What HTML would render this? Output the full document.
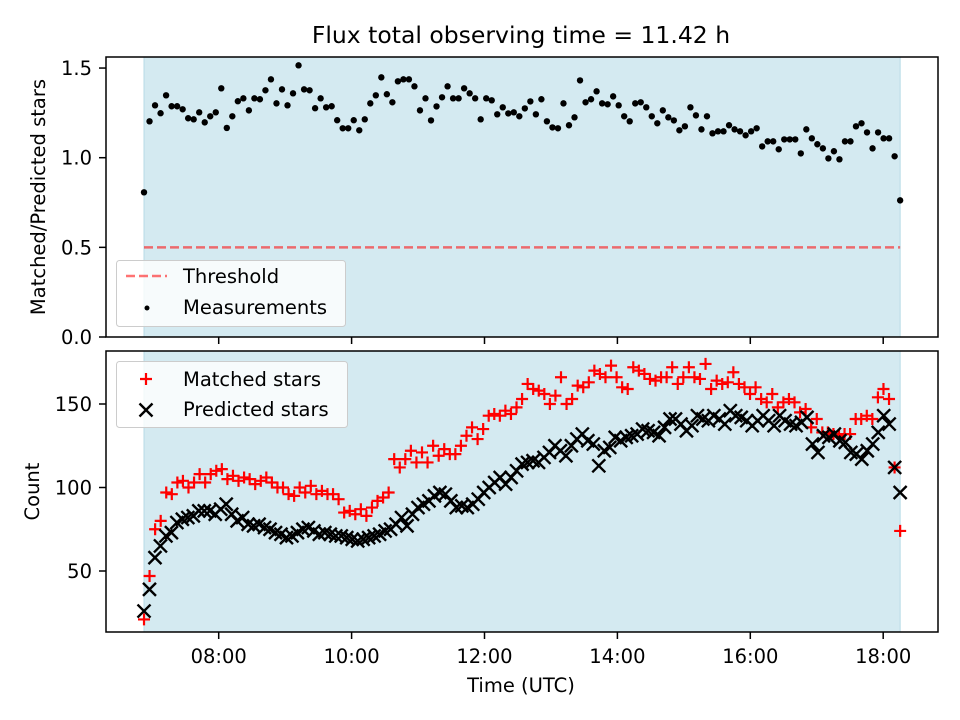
<!DOCTYPE html>
<html><head><meta charset="utf-8"><style>
body{margin:0;background:#fff;}
svg{display:block;font-family:"DejaVu Sans","Liberation Sans",sans-serif;}
</style></head><body>
<svg id="chart" width="960" height="720" viewBox="0 0 960 720" xmlns="http://www.w3.org/2000/svg">
<rect width="960" height="720" fill="#fff"/>
<text x="521" y="43" text-anchor="middle" font-size="23.5" fill="#000">Flux total observing time = 11.42 h</text>
<g id="top"></g>
<g id="bot"></g>
</svg>
<script>
const ratioValues = [0.807,1.203,1.292,1.248,1.348,1.287,1.287,1.270,1.220,1.214,1.253,1.197,1.231,1.253,1.387,1.166,1.231,1.315,1.331,1.264,1.331,1.326,1.376,1.437,1.303,1.381,1.292,1.359,1.515,1.381,1.376,1.276,1.331,1.281,1.287,1.209,1.164,1.164,1.209,1.153,1.214,1.303,1.348,1.448,1.354,1.309,1.426,
1.437,1.437,1.398,1.264,1.331,1.208,1.286,1.337,1.398,1.331,1.331,1.387,1.359,1.331,1.214,1.331,1.320,1.242,1.281,1.247,1.253,1.231,1.275,1.314,1.242,1.326,1.203,1.169,1.164,1.303,1.181,1.225,1.431,1.309,1.326,1.370,1.303,1.298,1.342,1.292,1.231,1.203,1.303,1.309,1.281,1.231,1.192,
1.264,1.225,1.208,1.153,1.175,1.281,1.236,1.158,1.231,1.136,1.147,1.147,1.181,1.158,1.147,1.125,1.147,1.164,1.063,1.091,1.091,1.047,1.102,1.102,1.102,1.024,1.158,1.108,1.075,1.052,0.996,1.036,0.991,1.091,1.091,1.175,1.192,1.141,1.052,1.141,1.108,1.108,1.008,0.762];
const matchedValues = [21,47,75,80,97,96,103,104,100,103,108,103,108,110,111,105,107,104,106,105,102,104,106,103,100,100,96,95,100,97,101,96,98,96,96,93,85,86,84,87,83,88,92,94,97,
117,112,117,122,115,121,115,125,119,123,120,120,125,131,136,129,135,143,144,143,146,144,148,153,162,159,158,156,150,155,166,150,153,161,160,163,170,168,166,173,166,160,159,172,170,168,165,
164,166,166,172,162,166,172,166,165,174,159,164,162,163,169,162,160,156,160,153,151,156,148,151,153,151,145,147,136,141,133,133,132,131,132,132,141,141,143,141,154,159,153,112,74];
const predictedValues = [26,39,58,65,71,73,79,81,82,83,86,86,86,84,87,90,84,80,82,78,77,78,76,75,73,72,70,71,73,75,76,74,72,73,72,71,71,70,69,68,69,70,71,72,74,
75,78,82,77,84,88,90,92,95,97,96,92,88,89,88,90,93,97,100,103,106,102,106,110,114,115,116,115,118,121,125,122,119,125,129,132,128,126,113,122,124,130,128,130,131,132,135,
134,133,131,136,141,141,138,134,137,143,141,140,143,141,138,146,143,142,140,137,140,143,140,137,143,140,138,137,139,142,126,121,131,130,132,128,127,121,120,117,122,126,133,143,138,112,97];
const tStart = 6.876, tEnd = 18.255;
const xTickHours = [8,10,12,14,16,18];
const xTickLabels = ["08:00","10:00","12:00","14:00","16:00","18:00"];
const topTicks = [0.0,0.5,1.0,1.5];
const topTickLabels = ["0.0","0.5","1.0","1.5"];
const botTicks = [50,100,150];
const threshold = 0.5;

const NS="http://www.w3.org/2000/svg";
const L=106,R=938;
const FS='19.5';
const xs=h=>218.7+(h-8)*66.45;
const yTop=v=>337-v*179.3;
const yBot=v=>571-(v-50)*1.67;
const tAt=(i,n)=>tStart+(tEnd-tStart)*i/(n-1);
function mk(p,tag,a){const e=document.createElementNS(NS,tag);for(const k in a)e.setAttribute(k,a[k]);p.appendChild(e);return e;}
function panel(g,y0,y1,ticks,labels,yf,ylabel,ylabX,showX){
  const s=mk(g,'rect',{x:xs(tStart),y:y0,width:xs(tEnd)-xs(tStart),height:y1-y0,fill:'#d4eaf1',stroke:'#b7dbe6','stroke-width':1});
  
  
  ticks.forEach((v,i)=>{const y=yf(v);
    const t=mk(g,'line',{x1:L-7,x2:L,y1:y,y2:y,stroke:'#000','stroke-width':1.5});
    
    
    const tx=mk(g,'text',{x:L-14,y:y+7,'text-anchor':'end','font-size':FS});tx.textContent=labels[i];
    
    });
  xTickHours.forEach((h,i)=>{const x=xs(h);
    const t=mk(g,'line',{x1:x,x2:x,y1:y1,y2:y1+7,stroke:'#000','stroke-width':1.5});
    
    
    if(showX){const tx=mk(g,'text',{x:x,y:y1+31,'text-anchor':'middle','font-size':FS});tx.textContent=xTickLabels[i];
      
      }});
  const yl=mk(g,'text',{x:ylabX,y:(y0+y1)/2,'text-anchor':'middle','font-size':FS,transform:`rotate(-90 ${ylabX} ${(y0+y1)/2})`});yl.textContent=ylabel;
  
  
}
function frame(g,y0,y1){const f=mk(g,'rect',{x:L,y:y0,width:R-L,height:y1-y0,fill:'none',stroke:'#000','stroke-width':1.5});
  
  }

// top panel
const gt=document.getElementById('top');
panel(gt,57,337,topTicks,topTickLabels,yTop,'Matched/Predicted stars',45,false);
const th=mk(gt,'line',{x1:xs(tStart),x2:xs(tEnd),y1:yTop(threshold),y2:yTop(threshold),stroke:'#ff0000','stroke-opacity':0.55,'stroke-width':2.5,'stroke-dasharray':'9,4'});


ratioValues.forEach((v,i)=>{const c=mk(gt,'circle',{cx:xs(tAt(i,ratioValues.length)),cy:yTop(v),r:3.2,fill:'#000'});
  
  });
frame(gt,57,337);
{const lg=mk(gt,'g',{});
 mk(lg,'rect',{x:116.5,y:260.5,width:229,height:66,rx:3,fill:'#fff','fill-opacity':0.8,stroke:'#ccc'});
 mk(lg,'line',{x1:126,x2:167,y1:276,y2:276,stroke:'#ff0000','stroke-opacity':0.55,'stroke-width':2.5,'stroke-dasharray':'9,4'});
 const a=mk(lg,'text',{x:183,y:283,'font-size':FS});a.textContent='Threshold';
 mk(lg,'circle',{cx:147,cy:308,r:2.5,fill:'#000'});
 const b=mk(lg,'text',{x:183,y:314,'font-size':FS});b.textContent='Measurements';}

// bottom panel
const gb=document.getElementById('bot');
panel(gb,351,632,botTicks,botTicks.map(String),yBot,'Count',39,true);
const xl=mk(gb,'text',{x:521,y:692,'text-anchor':'middle','font-size':FS});xl.textContent='Time (UTC)';


function plus(p,x,y){return mk(p,'path',{d:`M${x-6} ${y}H${x+6}M${x} ${y-6}V${y+6}`,stroke:'#ff0000','stroke-width':2.2,fill:'none'});}
function cross(p,x,y){return mk(p,'path',{d:`M${x-6.5} ${y-6.5}L${x+6.5} ${y+6.5}M${x-6.5} ${y+6.5}L${x+6.5} ${y-6.5}`,stroke:'#000','stroke-width':2.4,fill:'none'});}
matchedValues.forEach((v,i)=>{const m=plus(gb,xs(tAt(i,matchedValues.length)),yBot(v));
  
  });
predictedValues.forEach((v,i)=>{const m=cross(gb,xs(tAt(i,predictedValues.length)),yBot(v));
  
  });
frame(gb,351,632);
{const lg=mk(gb,'g',{});
 mk(lg,'rect',{x:116.5,y:361.5,width:231,height:66,rx:3,fill:'#fff','fill-opacity':0.8,stroke:'#ccc'});
 plus(lg,146,379);
 const a=mk(lg,'text',{x:183,y:386,'font-size':FS});a.textContent='Matched stars';
 cross(lg,146,410);
 const b=mk(lg,'text',{x:183,y:416,'font-size':FS});b.textContent='Predicted stars';}
</script>
</body></html>
